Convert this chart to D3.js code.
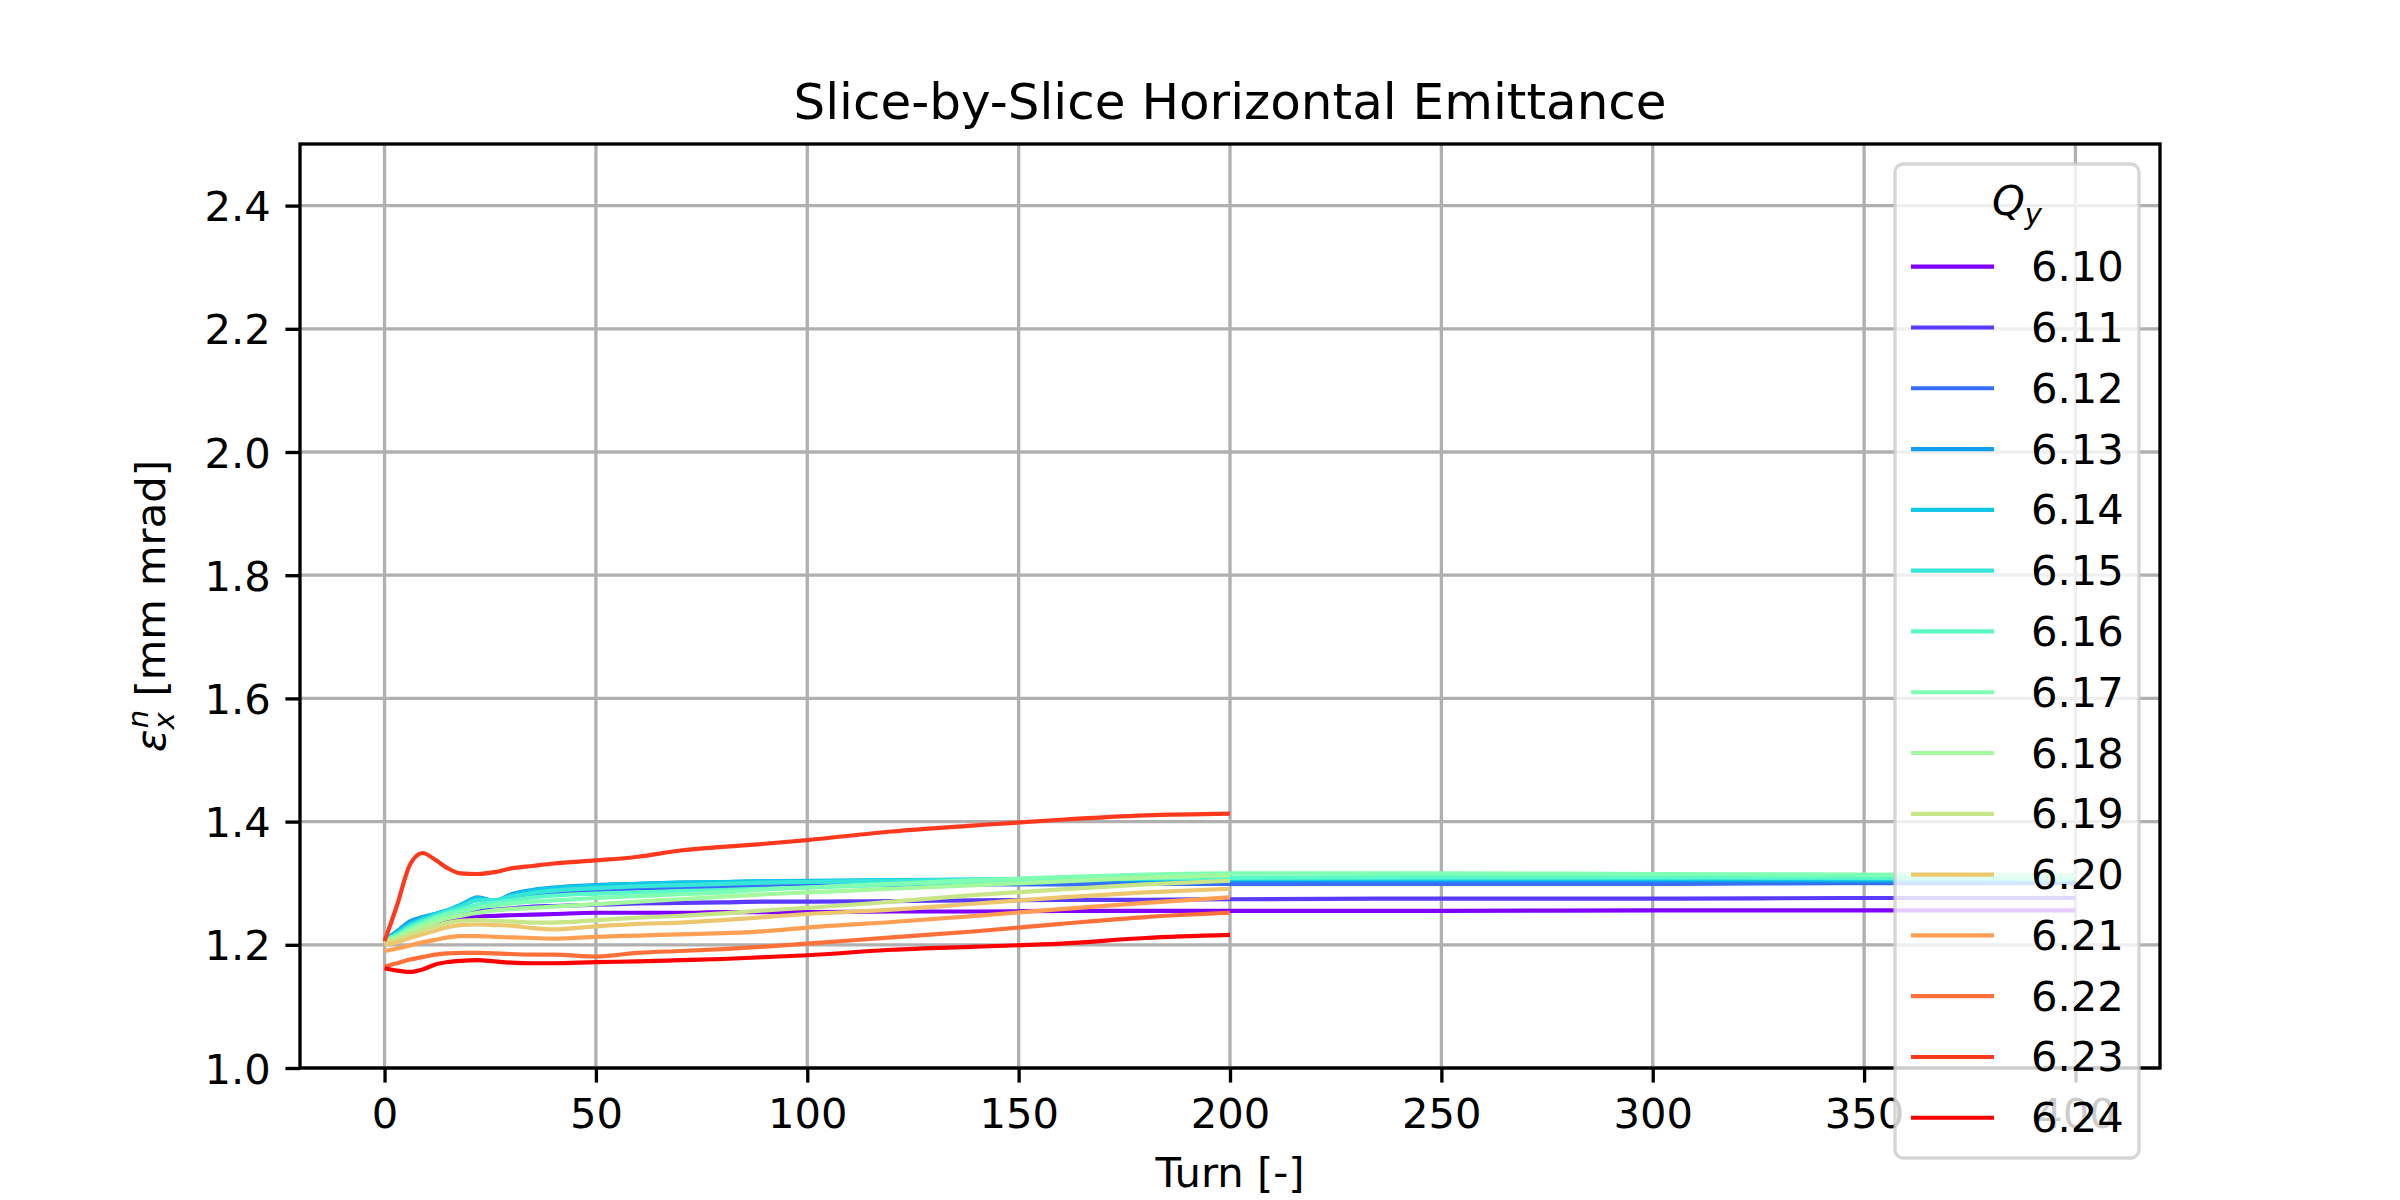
<!DOCTYPE html>
<html>
<head>
<meta charset="utf-8">
<script src="https://cdnjs.cloudflare.com/ajax/libs/d3/7.8.5/d3.min.js"></script>
<style>
  body { margin: 0; background: #fff; }
  text { font-family: "DejaVu Sans", sans-serif; fill: #000; }
</style>
</head>
<body>
<svg id="chart" width="2400" height="1200"></svg>
<script>
// turn numbers the values were read at
var turns = [0, 3, 6, 9, 12, 15, 18, 22, 26, 30, 35, 40, 50, 60, 70, 80, 90, 100, 120, 140, 160, 180, 200];
var turnsLong = turns.concat([250, 300, 350, 400]);

var qyLabels = ["6.10", "6.11", "6.12", "6.13", "6.14", "6.15", "6.16", "6.17",
                "6.18", "6.19", "6.20", "6.21", "6.22", "6.23", "6.24"];

// emittance [mm mrad], one array per Qy
var e610 = [1.210, 1.218, 1.226, 1.232, 1.237, 1.240, 1.243, 1.246, 1.247, 1.248, 1.249, 1.250, 1.252, 1.252, 1.252, 1.253, 1.253, 1.253, 1.254, 1.254, 1.255, 1.255, 1.255, 1.255, 1.256, 1.256, 1.256];
var e611 = [1.209, 1.218, 1.229, 1.236, 1.241, 1.245, 1.249, 1.256, 1.257, 1.259, 1.262, 1.263, 1.265, 1.267, 1.268, 1.269, 1.270, 1.270, 1.271, 1.272, 1.273, 1.273, 1.274, 1.275, 1.275, 1.276, 1.276];
var e612 = [1.208, 1.221, 1.235, 1.242, 1.248, 1.254, 1.262, 1.274, 1.268, 1.276, 1.282, 1.285, 1.289, 1.291, 1.293, 1.294, 1.295, 1.296, 1.297, 1.298, 1.298, 1.299, 1.299, 1.299, 1.299, 1.300, 1.300];
var e613 = [1.208, 1.222, 1.238, 1.245, 1.250, 1.256, 1.264, 1.277, 1.271, 1.282, 1.289, 1.293, 1.297, 1.299, 1.301, 1.302, 1.303, 1.303, 1.304, 1.305, 1.305, 1.305, 1.305, 1.305, 1.305, 1.304, 1.304];
var e614 = [1.208, 1.220, 1.234, 1.243, 1.250, 1.256, 1.265, 1.276, 1.272, 1.280, 1.288, 1.292, 1.296, 1.299, 1.301, 1.302, 1.303, 1.304, 1.305, 1.306, 1.307, 1.307, 1.307, 1.307, 1.307, 1.306, 1.306];
var e615 = [1.207, 1.218, 1.231, 1.240, 1.248, 1.255, 1.262, 1.272, 1.272, 1.278, 1.284, 1.288, 1.292, 1.295, 1.297, 1.299, 1.301, 1.302, 1.304, 1.306, 1.307, 1.308, 1.308, 1.309, 1.309, 1.308, 1.307];
var e616 = [1.207, 1.216, 1.228, 1.237, 1.245, 1.252, 1.257, 1.265, 1.268, 1.272, 1.277, 1.280, 1.283, 1.285, 1.287, 1.289, 1.291, 1.293, 1.298, 1.303, 1.306, 1.308, 1.309, 1.310, 1.310, 1.309, 1.308];
var e617 = [1.206, 1.214, 1.225, 1.234, 1.242, 1.249, 1.253, 1.260, 1.264, 1.267, 1.270, 1.272, 1.276, 1.279, 1.282, 1.285, 1.290, 1.293, 1.299, 1.305, 1.310, 1.314, 1.316, 1.316, 1.315, 1.314, 1.313];
var e618 = [1.205, 1.212, 1.222, 1.230, 1.237, 1.243, 1.247, 1.252, 1.256, 1.258, 1.260, 1.262, 1.266, 1.270, 1.274, 1.278, 1.282, 1.285, 1.291, 1.297, 1.303, 1.309, 1.313];
var e619 = [1.203, 1.209, 1.217, 1.224, 1.230, 1.236, 1.239, 1.240, 1.239, 1.238, 1.236, 1.236, 1.240, 1.244, 1.247, 1.251, 1.256, 1.260, 1.270, 1.281, 1.290, 1.298, 1.304];
var e620 = [1.200, 1.204, 1.211, 1.217, 1.223, 1.229, 1.232, 1.233, 1.232, 1.231, 1.227, 1.225, 1.230, 1.234, 1.236, 1.240, 1.245, 1.250, 1.257, 1.267, 1.277, 1.285, 1.291];
var e621 = [1.190, 1.194, 1.199, 1.204, 1.208, 1.212, 1.214, 1.214, 1.213, 1.212, 1.211, 1.210, 1.213, 1.215, 1.217, 1.219, 1.222, 1.228, 1.237, 1.247, 1.258, 1.268, 1.277];
var e622 = [1.165, 1.170, 1.176, 1.180, 1.184, 1.186, 1.187, 1.187, 1.186, 1.185, 1.184, 1.184, 1.181, 1.187, 1.190, 1.193, 1.197, 1.202, 1.212, 1.222, 1.234, 1.245, 1.252];
var e623 = [1.206, 1.265, 1.330, 1.349, 1.338, 1.324, 1.316, 1.315, 1.318, 1.324, 1.328, 1.332, 1.337, 1.343, 1.353, 1.359, 1.364, 1.370, 1.384, 1.394, 1.403, 1.410, 1.413];
var e624 = [1.162, 1.158, 1.156, 1.160, 1.168, 1.172, 1.174, 1.175, 1.173, 1.171, 1.170, 1.170, 1.172, 1.173, 1.175, 1.177, 1.180, 1.183, 1.192, 1.197, 1.202, 1.211, 1.216];

var allSeries = [e610, e611, e612, e613, e614, e615, e616, e617, e618, e619, e620, e621, e622, e623, e624];

var xTicks = [0, 50, 100, 150, 200, 250, 300, 350, 400];
var yTicks = [1.0, 1.2, 1.4, 1.6, 1.8, 2.0, 2.2, 2.4];

// figure geometry (8x4 in at 300 dpi)
var plotL = 300, plotR = 2160, plotT = 144, plotB = 1068;
var fs = 41.67, lw = 4.17, thin = 3.33;

// matplotlib "rainbow" colormap
function rainbow(t) {
  var c = function(v) { return Math.max(0, Math.min(1, v)) * 255; };
  return d3.rgb(c(Math.abs(2 * t - 0.5)), c(Math.sin(Math.PI * t)), c(Math.cos(Math.PI * t / 2))).formatHex();
}
var colors = qyLabels.map(function(d, i) { return rainbow(i / (qyLabels.length - 1)); });

var svg = d3.select("#chart");

var x = d3.scaleLinear().domain([-20, 420]).range([plotL, plotR]);
var y = d3.scaleLinear().domain([1.0, 2.5]).range([plotB, plotT]);

// grid
svg.append("g").selectAll("line").data(xTicks).enter().append("line")
   .attr("x1", function(d) { return x(d); }).attr("x2", function(d) { return x(d); })
   .attr("y1", plotT).attr("y2", plotB)
   .attr("stroke", "#b0b0b0").attr("stroke-width", thin);
svg.append("g").selectAll("line").data(yTicks).enter().append("line")
   .attr("x1", plotL).attr("x2", plotR)
   .attr("y1", function(d) { return y(d); }).attr("y2", function(d) { return y(d); })
   .attr("stroke", "#b0b0b0").attr("stroke-width", thin);

// series
var line = d3.line()
  .x(function(d) { return x(d[0]); })
  .y(function(d) { return y(d[1]); })
  .curve(d3.curveMonotoneX);

svg.append("g").selectAll("path").data(allSeries).enter().append("path")
   .attr("d", function(s) {
     var tt = s.length > turns.length ? turnsLong : turns;
     return line(s.map(function(v, i) { return [tt[i], v]; }));
   })
   .attr("fill", "none")
   .attr("stroke", function(s, i) { return colors[i]; })
   .attr("stroke-width", lw)
   .attr("stroke-linejoin", "round");

// axes
var xAxis = d3.axisBottom(x).tickValues(xTicks).tickSize(14.6).tickPadding(14.6).tickFormat(d3.format("d"));
var yAxis = d3.axisLeft(y).tickValues(yTicks).tickSize(14.6).tickPadding(14.6).tickFormat(d3.format(".1f"));

var gx = svg.append("g").attr("transform", "translate(0," + plotB + ")").call(xAxis);
var gy = svg.append("g").attr("transform", "translate(" + plotL + ",0)").call(yAxis);
[gx, gy].forEach(function(g) {
  g.select(".domain").remove();
  g.selectAll(".tick line").attr("stroke", "#000").attr("stroke-width", thin);
  g.selectAll(".tick text").attr("font-size", fs).attr("font-family", "DejaVu Sans").attr("fill", "#000");
});
gx.selectAll(".tick text").attr("dy", null).attr("y", 60);
gy.selectAll(".tick text").attr("dy", null).attr("y", 15);

svg.append("rect")
   .attr("x", plotL).attr("y", plotT).attr("width", plotR - plotL).attr("height", plotB - plotT)
   .attr("fill", "none").attr("stroke", "#000").attr("stroke-width", thin);

// title and labels
svg.append("text").attr("x", (plotL + plotR) / 2).attr("y", 119)
   .attr("text-anchor", "middle").attr("font-size", 50)
   .text("Slice-by-Slice Horizontal Emittance");

svg.append("text").attr("x", (plotL + plotR) / 2).attr("y", 1187)
   .attr("text-anchor", "middle").attr("font-size", fs)
   .text("Turn [-]");

var yl = svg.append("text")
   .attr("transform", "translate(165," + (plotT + plotB) / 2 + ") rotate(-90)")
   .attr("text-anchor", "middle").attr("font-size", fs);
yl.append("tspan").attr("font-style", "italic").text("ε");
yl.append("tspan").attr("font-style", "italic").attr("font-size", 29).attr("dy", 9).text("x");
yl.append("tspan").attr("font-style", "italic").attr("font-size", 29).attr("dx", -16).attr("dy", -26).text("n");
yl.append("tspan").attr("dy", 17).text(" [mm mrad]");

// legend
var lg = svg.append("g");
var lx0 = 1895, ly0 = 164, lx1 = 2139, ly1 = 1158;
lg.append("rect")
  .attr("x", lx0).attr("y", ly0).attr("width", lx1 - lx0).attr("height", ly1 - ly0)
  .attr("rx", 8.3).attr("ry", 8.3)
  .attr("fill", "#fff").attr("fill-opacity", 0.8)
  .attr("stroke", "#cccccc").attr("stroke-opacity", 0.8).attr("stroke-width", thin);

var lt = lg.append("text").attr("x", (lx0 + lx1) / 2).attr("y", 215)
  .attr("text-anchor", "middle").attr("font-size", fs);
lt.append("tspan").attr("font-style", "italic").text("Q");
lt.append("tspan").attr("font-style", "italic").attr("font-size", 29).attr("dy", 9).text("y");

var rowY = function(i) { return 266.7 + i * 60.79; };
var entries = lg.selectAll("g.entry").data(qyLabels).enter().append("g").attr("class", "entry");
entries.append("line")
  .attr("x1", 1911).attr("x2", 1994)
  .attr("y1", function(d, i) { return rowY(i); }).attr("y2", function(d, i) { return rowY(i); })
  .attr("stroke", function(d, i) { return colors[i]; })
  .attr("stroke-width", lw);
entries.append("text")
  .attr("x", 2031).attr("y", function(d, i) { return rowY(i) + 14.5; })
  .attr("font-size", fs)
  .text(function(d) { return d; });
</script>
</body>
</html>
